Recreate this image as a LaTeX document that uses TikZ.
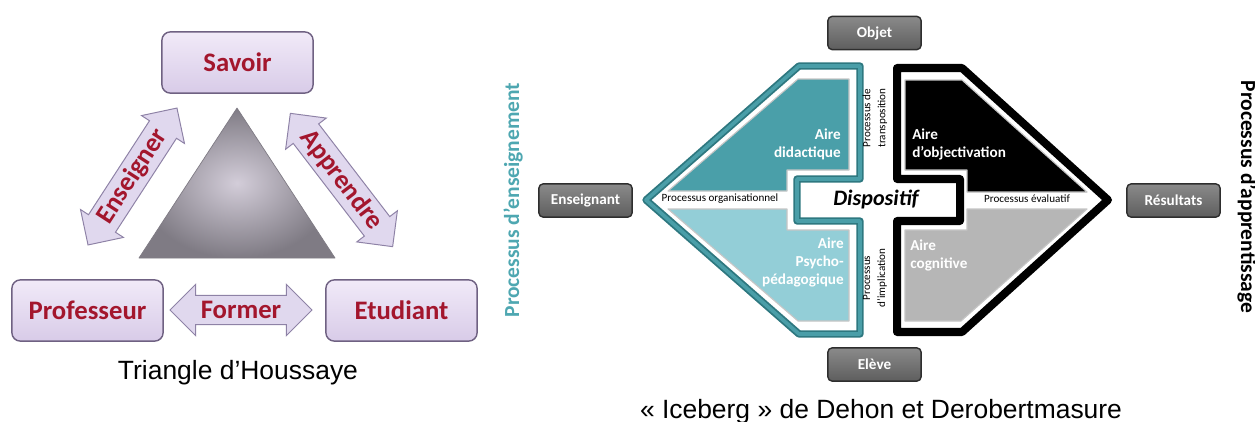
\documentclass[tikz,border=0pt]{standalone}
\usepackage{fontspec}
\setmainfont{Carlito}
\newfontfamily\arialfont{Liberation Sans}
\usepackage{tkz-euclide}
\usetikzlibrary{shapes.arrows}
\definecolor{lilactop}{HTML}{F1EAF8}
\definecolor{lilacbot}{HTML}{D8CBE8}
\definecolor{lilacline}{HTML}{6F6182}
\definecolor{arrowfill}{HTML}{E0D8EE}
\definecolor{arrowline}{HTML}{8E82A6}
\definecolor{wine}{HTML}{A3162D}
\definecolor{trigrey}{HTML}{7F7B84}
\definecolor{trilight}{HTML}{D3CDD9}
\definecolor{tealedge}{HTML}{2E7880}
\definecolor{tealband}{HTML}{4A9EA8}
\definecolor{tealdark}{HTML}{4A9FA9}
\definecolor{teallight}{HTML}{93CED7}
\definecolor{tealtext}{HTML}{4EA7B1}
\definecolor{boxtop}{HTML}{8A8A8A}
\definecolor{boxbot}{HTML}{5E5E5E}
\definecolor{boxline}{HTML}{2E2E2E}
\definecolor{cogn}{HTML}{B6B6B6}
\tikzset{
	lilacbox/.style={draw=lilacline,line width=1pt,rounded corners=6pt,top color=lilactop,bottom color=lilacbot,minimum width=3.78cm,minimum height=1.53cm,text=wine,font=\fontsize{19}{20}\selectfont\bfseries},
	lilacarrow/.style={double arrow,double arrow head extend=0.2cm,minimum width=1.28cm,draw=arrowline,line width=0.7pt,fill=arrowfill,text=wine,font=\fontsize{19}{20}\selectfont\bfseries,inner sep=1pt},
	greybox/.style={draw=boxline,line width=1pt,rounded corners=3pt,top color=boxtop,bottom color=boxbot,minimum width=2.33cm,minimum height=0.83cm,text=white,font=\fontsize{10.8}{12}\selectfont\bfseries},
	airetext/.style={text=white,font=\fontsize{10.8}{12.8}\selectfont\bfseries,inner sep=0pt},
	proctext/.style={font=\fontsize{7.9}{10.7}\selectfont,inner sep=0pt},
	bigcaption/.style={font=\arialfont\fontsize{18.8}{20}\selectfont,anchor=base,inner sep=0pt}
}
\begin{document}
\begin{tikzpicture}[x=0.025cm,y=-0.025cm]
	\useasboundingbox (0,0) rectangle (1255,421);
	\node[lilacbox] (savoir) at (237.5,62.5) {Savoir};
	\node[lilacbox] (prof) at (87.5,310.5) {Professeur};
	\node[lilacbox] (etud) at (401.5,310.5) {Etudiant};
	\tkzDefPoints{139/258/p1,335/258/p2,237/108/p3}
	\tkzDrawPolygon[draw=trigrey,line width=0.5pt,inner color=trilight,outer color=trigrey](p1,p2,p3)
	\node[lilacarrow,minimum height=3.55cm] (former) at (241,310) {Former};
	\node[lilacarrow,minimum height=4.08cm,rotate=57] (enseigner) at (132.5,176.5) {Enseigner};
	\node[lilacarrow,minimum height=4.2cm,rotate=-52.5] (apprendre) at (341.5,180) {Apprendre};
	\node[bigcaption] (capleft) at (238,379) {Triangle d’Houssaye};

	\node[greybox] (objet) at (874.5,33) {Objet};
	\node[greybox] (eleve) at (874.5,364.5) {Elève};
	\node[greybox] (enseignant) at (585.5,200.5) {Enseignant};
	\node[greybox] (resultats) at (1173.5,200.5) {Résultats};
	\tkzDefPoints{646/200/a1,799/66/a2,860/66/a3,860/179/a4,797/179/a5,797/221/a6,860/221/a7,860/334/a8,799/334/a9}
	\tkzDrawPolygon[draw=tealedge,line width=1.3pt,double=tealband,double distance=2.6pt,fill=white](a1,a2,a3,a4,a5,a6,a7,a8,a9)
	\tkzDefPoints{668/191/b1,798/79/b2,849/79/b3,849/170/b4,787/170/b5,787/191/b6}
	\tkzDrawPolygon[draw=gray!45,line width=0.8pt,fill=tealdark](b1,b2,b3,b4,b5,b6)
	\tkzDefPoints{668/209/c1,787/209/c2,787/230/c3,849/230/c4,849/321/c5,798/321/c6}
	\tkzDrawPolygon[draw=gray!45,line width=0.8pt,fill=teallight](c1,c2,c3,c4,c5,c6)
	\tkzDefPoints{897/68/d1,962/68/d2,1108/200/d3,962/332/d4,897/332/d5,897/221/d6,960/221/d7,960/179/d8,897/179/d9}
	\tkzDrawPolygon[draw=black,line width=5.7pt,fill=white](d1,d2,d3,d4,d5,d6,d7,d8,d9)
	\tkzDefPoints{905/80/e1,962/80/e2,1087/192/e3,967/192/e4,967/170/e5,905/170/e6}
	\tkzDrawPolygon[draw=gray!45,line width=0.8pt,fill=black](e1,e2,e3,e4,e5,e6)
	\tkzDefPoints{905/230/f1,967/230/f2,967/209/f3,1087/209/f4,961/321/f5,905/321/f6}
	\tkzDrawPolygon[draw=gray!45,line width=0.8pt,fill=cogn](f1,f2,f3,f4,f5,f6)
	\node[proctext] (orga) at (720,199) {Processus organisationnel};
	\node[proctext] (evalu) at (1027,199) {Processus évaluatif};
	\node[proctext,rotate=90,align=center] (transpo) at (875,118) {Processus de\\transposition};
	\node[proctext,rotate=90,align=center] (implic) at (875,278) {Processus\\d’implication};
	\node[font=\fontsize{15.7}{18}\selectfont\bfseries\itshape] (dispositif) at (876,199) {Dispositif};
	\node[airetext,align=right,anchor=east] (didac) at (841,144) {Aire\\didactique};
	\node[airetext,align=right,anchor=east] (psycho) at (844,262) {Aire\\Psycho-\\pédagogique};
	\node[airetext,align=left,anchor=west] (objec) at (912,144) {Aire\\d’objectivation};
	\node[airetext,align=left,anchor=west] (cogni) at (910,255) {Aire\\cognitive};
	\node[rotate=90,text=tealtext,font=\fontsize{15.3}{16}\selectfont\bfseries] (penseign) at (513,200) {Processus d’enseignement};
	\node[rotate=-90,font=\fontsize{15.3}{16}\selectfont\bfseries] (papprent) at (1247,197) {Processus d’apprentissage};
	\node[bigcaption] (capright) at (881,418) {« Iceberg » de Dehon et Derobertmasure};
\end{tikzpicture}
\end{document}
